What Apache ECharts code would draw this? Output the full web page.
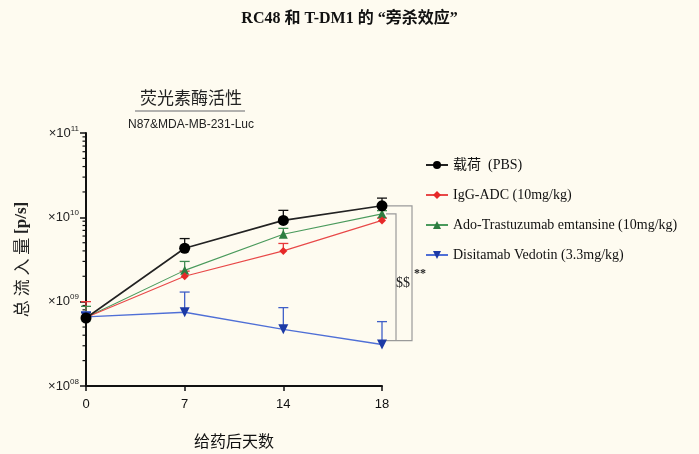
<!DOCTYPE html>
<html>
<head>
<meta charset="utf-8">
<script src="https://cdn.jsdelivr.net/npm/echarts@6/dist/echarts.min.js"></script>
<style>
  html, body { margin: 0; padding: 0; background: #fefbf0; }
  #chart { width: 699px; height: 454px; }
</style>
</head>
<body>
<div id="chart"></div>
<script>
// Days after dosing (equally spaced category ticks)
const days = ['0', '7', '14', '18'];

// Total flux [p/s], mean values
const pbsMean   = [6.4e8, 4.3e9, 9.2e9, 1.37e10];
const iggMean   = [6.5e8, 2.0e9, 4.0e9, 9.2e9];
const tdm1Mean  = [6.5e8, 2.35e9, 6.3e9, 1.1e10];
const rc48Mean  = [6.6e8, 7.5e8, 4.7e8, 3.1e8];

// Upper error bar ends
const pbsErr  = [7.4e8, 5.6e9, 1.21e10, 1.69e10];
const iggErr  = [1.0e9, 2.3e9, 4.9e9, 9.8e9];
const tdm1Err = [8.8e8, 3.0e9, 7.4e9, 1.2e10];
const rc48Err = [7.6e8, 1.3e9, 8.5e8, 5.8e8];

const seriesNames = [
  '载荷  (PBS)',
  'IgG-ADC (10mg/kg)',
  'Ado-Trastuzumab emtansine (10mg/kg)',
  'Disitamab Vedotin (3.3mg/kg)'
];

const yTickExponents = [8, 9, 10, 11];

const serif = '"Liberation Serif", "Times New Roman", "Noto Sans CJK SC", serif';
const cjk = '"Noto Sans CJK SC", sans-serif';
const narrow = '"Liberation Sans Narrow", "Liberation Sans", Arial, sans-serif';

const chart = echarts.init(document.getElementById('chart'), null, { renderer: 'canvas' });

function errorSeries(name, mean, err, color) {
  return {
    type: 'custom',
    name: name + ' err',
    z: 1,
    silent: true,
    legendHoverLink: false,
    data: mean.map((m, i) => [i, m, err[i]]),
    renderItem(params, api) {
      const base = api.coord([api.value(0), api.value(1)]);
      const top = api.coord([api.value(0), api.value(2)]);
      const half = 5;
      return {
        type: 'group',
        children: [
          { type: 'line', shape: { x1: base[0], y1: base[1], x2: top[0], y2: top[1] }, style: { stroke: color, lineWidth: 1.3 } },
          { type: 'line', shape: { x1: top[0] - half, y1: top[1], x2: top[0] + half, y2: top[1] }, style: { stroke: color, lineWidth: 1.3 } }
        ]
      };
    }
  };
}

function lineSeries(name, data, color, lineColor, symbol, size, width, z) {
  return {
    type: 'line',
    name,
    data,
    symbol,
    symbolSize: size,
    z,
    itemStyle: { color },
    lineStyle: { color: lineColor, width },
    emphasis: { disabled: true }
  };
}

const option = {
  backgroundColor: '#fefbf0',
  animation: false,
  title: {
    text: 'RC48 和 T-DM1 的 “旁杀效应”',
    left: 'center',
    top: 6,
    textStyle: { fontFamily: serif, fontWeight: 'bold', fontSize: 16, color: '#111' }
  },
  legend: {
    orient: 'vertical',
    left: 420,
    top: 152,
    itemWidth: 22,
    itemHeight: 10,
    itemGap: 14,
    data: seriesNames,
    textStyle: { fontFamily: serif, fontSize: 14, color: '#111', lineHeight: 16 }
  },
  grid: { left: 86, right: 317, top: 133, bottom: 67 },
  xAxis: {
    type: 'category',
    data: days,
    boundaryGap: false,
    name: '给药后天数',
    nameLocation: 'middle',
    nameGap: 47,
    nameTextStyle: { fontFamily: cjk, fontSize: 16, color: '#111' },
    axisLine: { lineStyle: { color: '#111', width: 2 } },
    axisTick: { show: true, alignWithLabel: true, length: 5, lineStyle: { color: '#111', width: 1.5 } },
    axisLabel: { fontFamily: narrow, fontSize: 13, color: '#111', margin: 12 }
  },
  yAxis: {
    type: 'log',
    logBase: 10,
    min: 1e8,
    max: 1e11,
    name: '{cn|总 流 入 量 }{en|[p/s]}',
    nameLocation: 'middle',
    nameRotate: 90,
    nameGap: 56,
    nameTextStyle: {
      rich: {
        cn: { fontFamily: cjk, fontSize: 17, color: '#222' },
        en: { fontFamily: serif, fontSize: 17, fontWeight: 'bold', color: '#222' }
      }
    },
    axisLine: { show: true, lineStyle: { color: '#111', width: 2 } },
    axisTick: { show: true, length: 6, lineStyle: { color: '#111', width: 1.5 } },
    splitLine: { show: false },
    axisLabel: {
      margin: 7,
      formatter(v) {
        const e = Math.round(Math.log10(v));
        return '{base|×10}{sup|' + String(e).padStart(2, '0') + '}';
      },
      rich: {
        base: { fontFamily: narrow, fontSize: 13, color: '#222' },
        sup: { fontFamily: narrow, fontSize: 8, color: '#222', verticalAlign: 'top', padding: [0, 0, 9, 0] }
      }
    }
  },
  series: [
    errorSeries('pbs', pbsMean, pbsErr, '#111'),
    errorSeries('igg', iggMean, iggErr, '#e8383a'),
    errorSeries('tdm1', tdm1Mean, tdm1Err, '#3f8c52'),
    errorSeries('rc48', rc48Mean, rc48Err, '#3f5fc8'),
    lineSeries(seriesNames[0], pbsMean, '#000', '#222', 'circle', 11, 1.6, 5),
    lineSeries(seriesNames[1], iggMean, '#e62828', '#e84848', 'diamond', 8, 1.1, 4),
    lineSeries(seriesNames[2], tdm1Mean, '#2e7d40', '#4a9a5c', 'triangle', 9, 1.1, 3),
    lineSeries(seriesNames[3], rc48Mean, '#1c3aa6', '#4f6fd6', 'path://M0,0 L10,0 L5,10 Z', 10, 1.4, 2)
  ]
};

chart.setOption(option);

// Extra graphics: log minor ticks, panel heading, significance brackets
const g = [];
const axisX = chart.convertToPixel({ xAxisIndex: 0 }, 0);
for (let e = yTickExponents[0]; e < yTickExponents[yTickExponents.length - 1]; e++) {
  for (let k = 2; k <= 9; k++) {
    const y = chart.convertToPixel({ yAxisIndex: 0 }, k * Math.pow(10, e));
    g.push({ type: 'line', shape: { x1: axisX - 3.5, y1: y, x2: axisX, y2: y }, style: { stroke: '#111', lineWidth: 1.2 } });
  }
}

g.push({ type: 'text', x: 191, y: 98, style: { text: '荧光素酶活性', font: '17px ' + cjk, fill: '#222', align: 'center', verticalAlign: 'middle' } });
g.push({ type: 'line', shape: { x1: 135, y1: 111, x2: 245, y2: 111 }, style: { stroke: '#999', lineWidth: 1.5 } });
g.push({ type: 'text', x: 191, y: 125, style: { text: 'N87&MDA-MB-231-Luc', font: '12px ' + narrow, fill: '#222', align: 'center', verticalAlign: 'middle' } });

const lastX = chart.convertToPixel({ xAxisIndex: 0 }, 3);
const yTopOuter = chart.convertToPixel({ yAxisIndex: 0 }, pbsMean[3]);
const yTopInner = chart.convertToPixel({ yAxisIndex: 0 }, tdm1Mean[3]);
const yBottom = chart.convertToPixel({ yAxisIndex: 0 }, rc48Mean[3]) - 4;
const bracket = { stroke: '#9a9a9a', lineWidth: 1.2, fill: null };
g.push({ type: 'polyline', shape: { points: [[lastX + 1, yTopOuter], [lastX + 30, yTopOuter], [lastX + 30, yBottom], [lastX + 1, yBottom]] }, style: bracket });
g.push({ type: 'polyline', shape: { points: [[lastX + 4, yTopInner], [lastX + 14, yTopInner], [lastX + 14, yBottom]] }, style: bracket });
g.push({ type: 'text', x: lastX + 21, y: (yTopInner + yBottom) / 2 + 6, style: { text: '$$', font: '14px ' + serif, fill: '#222', align: 'center', verticalAlign: 'middle' } });
g.push({ type: 'text', x: lastX + 38, y: (yTopInner + yBottom) / 2 - 3, style: { text: '**', font: 'bold 12px ' + serif, fill: '#222', align: 'center', verticalAlign: 'middle' } });

chart.setOption({ graphic: g });
</script>
</body>
</html>
